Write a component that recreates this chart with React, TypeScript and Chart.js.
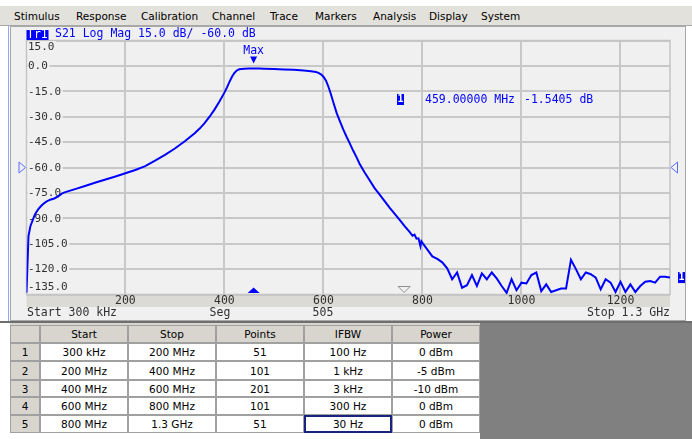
import React, { useEffect, useRef } from "react";
import { Chart, registerables } from "chart.js";

Chart.register(...registerables);

// ---------- data ----------
const freqMHz = [
  0.3, 4.3, 8.3, 12.3, 16.3, 20.3, 24.3, 28.3, 32.3, 36.3, 40.3, 48.3, 56.3, 64.3, 72.3, 80.3, 100, 120, 140, 160, 180, 200,
  220, 240, 260, 280, 300, 320, 340, 350, 360, 370, 380, 390, 400,
  405, 410, 415, 420, 425, 430, 440, 450, 459, 470, 480, 500, 520, 540, 560, 575, 585, 590, 595, 600,
  605, 610, 615, 620, 627, 633, 640, 647, 653, 660, 667, 673, 683, 693, 703, 714, 724, 734, 744, 754, 764, 774, 780, 784, 788, 792, 796, 798,
  800, 810, 820, 830, 840, 850, 860, 870, 880, 890, 900, 910, 920, 930, 940, 950, 960, 970, 980, 990,
  1000, 1010, 1020, 1030, 1040, 1050, 1060, 1070, 1080, 1090, 1100, 1110, 1120, 1130, 1140, 1150, 1160, 1170, 1180, 1190,
  1200, 1210, 1220, 1230, 1240, 1250, 1260, 1270, 1280, 1290, 1300,
];
const s21dB = [
  -134, -100.5, -94.5, -91.5, -88.5, -86.3, -84.6, -83.2, -82, -81, -80.2, -79, -78.3, -77, -75.3, -74.4, -72.6, -70.8, -68.9, -67.1, -65.3, -63.4,
  -61.5, -59.2, -56, -52.5, -48.8, -44.5, -39.8, -37, -33.8, -30, -25.8, -21, -15.8,
  -12.8, -9.6, -6.6, -4.2, -2.7, -2.0, -1.7, -1.6, -1.5405, -1.6, -1.7, -1.9, -2.1, -2.3, -2.7, -3.1, -3.6, -4.1, -5.0, -6.4,
  -8.6, -12.2, -16.6, -21.5, -28, -32.5, -37.5, -42, -45.6, -50, -54, -57.8, -62.8, -67.4, -72, -76.2, -80, -83.8, -87.4, -91, -94.6, -98, -100.3, -99.6, -102, -101.8, -106.5, -103.6,
  -104.5, -108.5, -112.5, -114, -116, -119.5, -126, -122, -131, -129.5, -123.5, -130, -122.5, -126, -122, -125.5, -130, -134, -126, -132.5,
  -128, -128.5, -123.5, -122, -133, -129, -133.5, -132.5, -131.5, -131.5, -114.5, -120, -126, -122, -123, -125, -132, -126, -128, -133.5,
  -127.5, -133.5, -129, -133.5, -130, -127.5, -127, -128, -124.5, -124.5, -125,
];
const xTicks = [200, 400, 600, 800, 1000, 1200];
const yTicks = [15, 0, -15, -30, -45, -60, -75, -90, -105, -120, -135];
const xMin = 0.3;
const xMax = 1300;
const markerFreq = 459;
const markerValue = -1.5405;
const inactiveStimFreq = 763;
const refLevel = -60;
const scaleDiv = 15.0;

const menuItems = ["Stimulus", "Response", "Calibration", "Channel", "Trace", "Markers", "Analysis", "Display", "System"];
const tableHeaders = ["", "Start", "Stop", "Points", "IFBW", "Power"];
const segStart = ["300 kHz", "200 MHz", "400 MHz", "600 MHz", "800 MHz"];
const segStop = ["200 MHz", "400 MHz", "600 MHz", "800 MHz", "1.3 GHz"];
const segPoints = [51, 101, 201, 101, 51];
const segIFBW = ["100 Hz", "1 kHz", "3 kHz", "300 Hz", "30 Hz"];
const segPower = ["0 dBm", "-5 dBm", "-10 dBm", "0 dBm", "0 dBm"];

// ---------- layout ----------
const MONO = '"DejaVu Sans Mono", monospace';
const UI = '"DejaVu Sans", sans-serif';
const menuLeft = [14, 76, 141, 212, 270, 315, 373, 429, 481];
const colEdges = [10, 40, 128, 216, 304, 392, 480];
const rowEdges = [325, 343, 361, 380, 397, 415, 433];

const BLUE = "#0000ff";

function tri(ctx: CanvasRenderingContext2D, pts: number[][], fill: string | null, stroke: string | null) {
  ctx.beginPath();
  ctx.moveTo(pts[0][0], pts[0][1]);
  for (let i = 1; i < pts.length; i++) ctx.lineTo(pts[i][0], pts[i][1]);
  ctx.closePath();
  if (fill) {
    ctx.fillStyle = fill;
    ctx.fill();
  }
  if (stroke) {
    ctx.strokeStyle = stroke;
    ctx.lineWidth = 1;
    ctx.stroke();
  }
}

const panelPlugin = {
  id: "panel",
  beforeDraw(chart: any) {
    const { ctx, chartArea: a, width, height } = chart;
    ctx.save();
    ctx.fillStyle = "#ffffff";
    ctx.fillRect(0, 0, width, height);
    ctx.fillStyle = "#f0f0f0";
    ctx.fillRect(11, 0, 675, height);
    ctx.strokeStyle = "#a8a8a8";
    ctx.lineWidth = 1;
    ctx.strokeRect(10.5, 0.5, 675, height - 1);
    ctx.strokeStyle = "#90a8f0";
    ctx.beginPath();
    ctx.moveTo(8.5, 0);
    ctx.lineTo(8.5, height);
    ctx.stroke();
    ctx.fillStyle = "#dcdad4";
    ctx.fillRect(a.left, a.bottom, a.right - a.left, 12.5);
    ctx.restore();
  },
  beforeDatasetsDraw(chart: any) {
    const { ctx, chartArea: a, scales } = chart;
    const ys = scales.y;
    ctx.save();
    ctx.strokeStyle = "#c4c4c4";
    ctx.lineWidth = 1.5;
    ctx.strokeRect(a.left, a.top, a.right - a.left, a.bottom - a.top);
    ctx.font = `11px ${MONO}`;
    ctx.textBaseline = "middle";
    ctx.textAlign = "left";
    for (const v of yTicks) {
      const py = ys.getPixelForValue(v);
      const cy = Math.min(Math.max(py, a.top + 6.5), a.bottom - 7.5);
      const t = v.toFixed(1);
      const w = ctx.measureText(t).width;
      ctx.fillStyle = "#f0f0f0";
      ctx.fillRect(a.left + 1, cy - 6, w + 2, 12);
      ctx.fillStyle = "#303030";
      ctx.fillText(t, a.left + 1.5, cy + 0.5);
    }
    ctx.restore();
  },
  afterDatasetsDraw(chart: any) {
    const { ctx, chartArea: a, scales } = chart;
    const xs = scales.x;
    const ys = scales.y;
    ctx.save();
    ctx.font = `11.5px ${MONO}`;
    ctx.textBaseline = "middle";

    // title
    ctx.fillStyle = BLUE;
    ctx.fillRect(a.left, 4, 22, 10);
    ctx.fillStyle = "#ffffff";
    ctx.textAlign = "left";
    ctx.fillText("Tr1", a.left + 0.5, 9);
    ctx.fillStyle = BLUE;
    ctx.fillText(`S21 Log Mag ${scaleDiv.toFixed(1)} dB/ ${refLevel.toFixed(1)} dB`, 55, 8.5);

    // x tick labels
    ctx.fillStyle = "#303030";
    ctx.textAlign = "center";
    for (const v of xTicks) ctx.fillText(String(v), xs.getPixelForValue(v), a.bottom + 6.5);

    // bottom stimulus line
    ctx.textAlign = "left";
    ctx.fillText("Start 300 kHz", a.left + 0.5, 287);
    ctx.textAlign = "center";
    ctx.fillText("Seg", 220, 287);
    ctx.fillText(String(segPoints.reduce((s, n) => s + n, 0)), 323, 287);
    ctx.textAlign = "right";
    ctx.fillText("Stop 1.3 GHz", a.right, 287);

    // max marker
    const mx = xs.getPixelForValue(markerFreq);
    const my = ys.getPixelForValue(markerValue);
    tri(ctx, [[mx - 3.5, my - 12], [mx + 3.5, my - 12], [mx, my - 5]], BLUE, null);
    ctx.fillStyle = BLUE;
    ctx.textAlign = "center";
    ctx.fillText("Max", mx, my - 17.5);

    // marker readout
    ctx.fillStyle = BLUE;
    ctx.fillRect(397, 68, 7, 11);
    ctx.fillStyle = "#ffffff";
    ctx.font = `bold 10px ${MONO}`;
    ctx.fillText("1", 400.5, 73.5);
    ctx.font = `11.5px ${MONO}`;
    ctx.fillStyle = BLUE;
    ctx.textAlign = "left";
    ctx.fillText(`${markerFreq.toFixed(5)} MHz`, 425, 74.5);
    ctx.fillText(`${markerValue.toFixed(4)} dB`, 524, 74.5);

    // stimulus triangles on bottom
    tri(ctx, [[mx - 6, a.bottom - 1.5], [mx + 6, a.bottom - 1.5], [mx, a.bottom - 7]], BLUE, null);
    const ix = xs.getPixelForValue(inactiveStimFreq);
    tri(ctx, [[ix - 6, a.bottom - 8], [ix + 6, a.bottom - 8], [ix, a.bottom - 2]], null, "#909090");

    // reference level triangles
    const ry = ys.getPixelForValue(refLevel);
    tri(ctx, [[a.left - 7.5, ry - 5.5], [a.left - 7.5, ry + 5.5], [a.left - 1, ry]], null, "#5a6cff");
    tri(ctx, [[a.right + 7.5, ry - 5.5], [a.right + 7.5, ry + 5.5], [a.right + 1, ry]], null, "#5a6cff");

    // trace end marker
    const ly = ys.getPixelForValue(s21dB[s21dB.length - 1]);
    ctx.fillStyle = BLUE;
    ctx.fillRect(a.right + 8, ly - 5.5, 7, 11);
    ctx.fillStyle = "#ffffff";
    ctx.font = `bold 10px ${MONO}`;
    ctx.textAlign = "center";
    ctx.fillText("1", a.right + 11.5, ly);
    ctx.restore();
  },
};

function ChartPanel() {
  const ref = useRef<HTMLCanvasElement>(null);
  useEffect(() => {
    const canvas = ref.current!;
    const chart = new Chart(canvas, {
      type: "line",
      data: {
        datasets: [
          {
            data: freqMHz.map((f, i) => ({ x: f, y: s21dB[i] })),
            borderColor: BLUE,
            borderWidth: 2,
            pointRadius: 0,
            tension: 0,
            fill: false,
          },
        ],
      },
      options: {
        responsive: false,
        animation: false,
        devicePixelRatio: 1,
        layout: { padding: { left: 26.5, top: 14.5, right: 22, bottom: 26.5 } },
        plugins: { legend: { display: false }, tooltip: { enabled: false } },
        scales: {
          x: {
            type: "linear",
            min: xMin,
            max: xMax,
            afterBuildTicks: (s: any) => {
              s.ticks = xTicks.map((v) => ({ value: v }));
            },
            afterFit: (s: any) => {
              s.height = 0;
            },
            ticks: { display: false },
            border: { display: false },
            grid: { color: "#c8c8c8", lineWidth: 2, drawTicks: false },
          },
          y: {
            type: "linear",
            min: -135,
            max: 15,
            afterBuildTicks: (s: any) => {
              s.ticks = yTicks.map((v) => ({ value: v }));
            },
            afterFit: (s: any) => {
              s.width = 0;
            },
            ticks: { display: false },
            border: { display: false },
            grid: { color: "#c8c8c8", lineWidth: 2, drawTicks: false },
          },
        },
      } as any,
      plugins: [panelPlugin],
    });
    return () => chart.destroy();
  }, []);
  return <canvas ref={ref} width={692} height={295} style={{ position: "absolute", left: 0, top: 26, width: 692, height: 295 }} />;
}

function SegTable() {
  const rows = segStart.map((s, i) => [String(i + 1), s, segStop[i], String(segPoints[i]), segIFBW[i], segPower[i]]);
  const cells: React.ReactNode[] = [];
  const all = [tableHeaders, ...rows];
  all.forEach((row, r) => {
    row.forEach((txt, c) => {
      const gray = r === 0 || c === 0;
      const selected = r === 5 && c === 4;
      cells.push(
        <div
          key={`${r}-${c}`}
          style={{
            position: "absolute",
            left: colEdges[c],
            top: rowEdges[r],
            width: colEdges[c + 1] - colEdges[c],
            height: rowEdges[r + 1] - rowEdges[r],
            boxSizing: "border-box",
            border: selected ? "2px solid #1a237e" : "1px solid #a0a0a0",
            marginLeft: selected ? 0 : 0,
            background: gray ? "#d8d5ce" : "#ffffff",
            font: `10.5px ${UI}`,
            color: "#000",
            display: "flex",
            alignItems: "center",
            justifyContent: "center",
          }}
        >
          {txt}
        </div>
      );
    });
  });
  return <>{cells}</>;
}

export default function App() {
  return (
    <div style={{ position: "absolute", left: 0, top: 0, width: 692, height: 439, overflow: "hidden", background: "#ffffff" }}>
      <div style={{ position: "absolute", left: 0, top: 6, width: 692, height: 20, background: "#e3e1db", borderBottom: "1px solid #a8a8a8", boxSizing: "border-box" }}>
        {menuItems.map((m, i) => (
          <span key={m} style={{ position: "absolute", left: menuLeft[i], top: 2, font: `10.5px ${UI}`, color: "#000", lineHeight: "16px" }}>
            {m}
          </span>
        ))}
      </div>
      <ChartPanel />
      <div style={{ position: "absolute", left: 0, top: 321, width: 692, height: 2, background: "#6e6e6e" }} />
      <div style={{ position: "absolute", left: 480, top: 323, width: 212, height: 116, background: "#808080" }} />
      <div style={{ position: "absolute", left: 10, top: 323, width: 470, height: 2, background: "#d8d5ce" }} />
      <SegTable />
    </div>
  );
}
